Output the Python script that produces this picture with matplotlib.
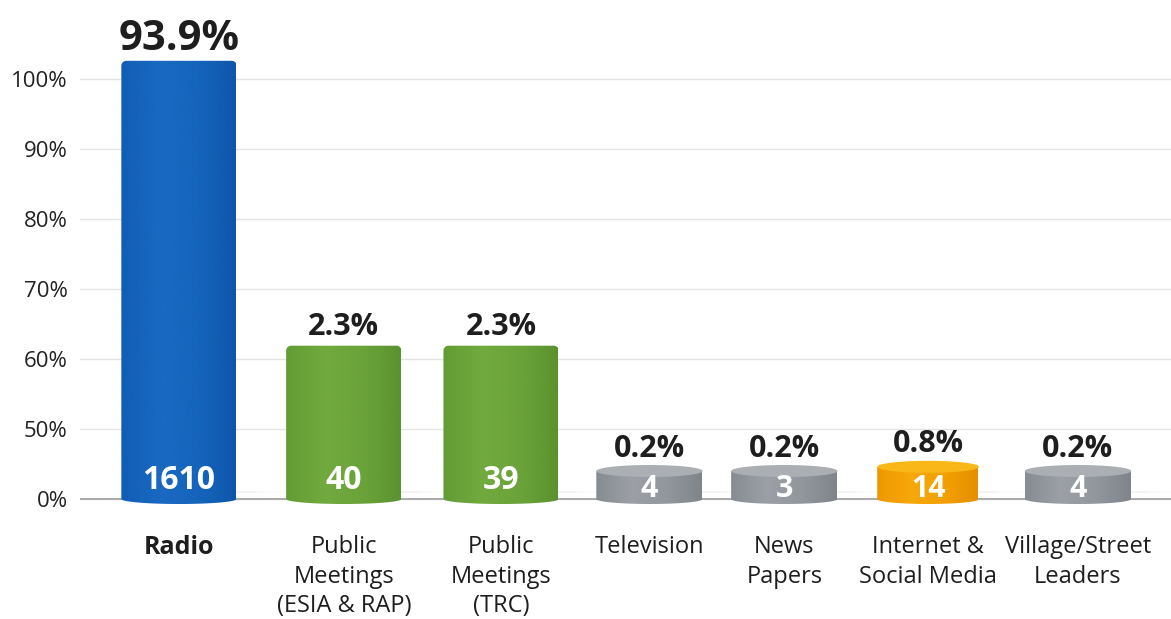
import numpy as np
import matplotlib; matplotlib.use('Agg')
import matplotlib.pyplot as plt
from matplotlib.patches import Polygon, Ellipse
from matplotlib.colors import LinearSegmentedColormap

plt.rcParams['font.family'] = ['Open Sans', 'DejaVu Sans']

cats = ['Radio', 'Public\nMeetings\n(ESIA & RAP)', 'Public\nMeetings\n(TRC)', 'Television',
        'News\nPapers', 'Internet &\nSocial Media', 'Village/Street\nLeaders']
counts = [1610, 40, 39, 4, 3, 14, 4]
pcts = [93.9, 2.3, 2.3, 0.2, 0.2, 0.8, 0.2]
# bar heights as drawn, read against the (broken) % axis
drawn = [102.6, 61.9, 61.9, 20, 20, 23, 20]
kind = ['blue', 'green', 'green', 'grey', 'grey', 'orange', 'grey']
yticks = [0, 50, 60, 70, 80, 90, 100]

# layout
xpos = [0, 1.10, 2.15, 3.14, 4.04, 5.0, 6.0]
PXX, PXU = 149.8, 70.0     # px per x unit / per scale unit
PAL = {'blue':  (['#115db4', '#1969c2', '#1564bc', '#0d56aa'], None),
       'green': (['#629c34', '#71aa3e', '#6aa339', '#5a922f'], None),
       'grey':  (['#878c93', '#9ca0a6', '#92979d', '#7f848b'], '#abafb4'),
       'orange': (['#ee9800', '#f7a80a', '#f2a000', '#e48e00'], '#f9b818')}

def fwd(y):
    y = np.asarray(y, float)
    return np.where(y <= 50, y/50, 1+(y-50)/10)

def inv(u):
    u = np.asarray(u, float)
    return np.where(u <= 1, u*50, 50+(u-1)*10)

fig = plt.figure(figsize=(11.71, 6.19), dpi=100)
ax = fig.add_axes([80/1171, (619-509)/619, 1-80/1171, 489/619])
ax.set_yscale('function', functions=(fwd, inv))

def body(xc, w, h, r=0, d=5):
    x0, x1 = xc-w/2, xc+w/2
    ut = float(fwd(h)); rx, ru = r/PXX, r/PXU; du = d/PXU
    a = np.linspace(0, np.pi/2, 10)
    tl = np.c_[x0+rx-rx*np.cos(a), ut-ru+ru*np.sin(a)]
    tr = np.c_[x1-rx+rx*np.sin(a), ut-ru+ru*np.cos(a)]
    b = np.linspace(0, np.pi, 40)
    bot = np.c_[xc+w/2*np.cos(b), -du*np.sin(b)]
    v = np.vstack([[[x0, 0]], tl, tr, bot])
    v[:, 1] = inv(v[:, 1])
    return Polygon(v, closed=True, fc='none', ec='none', zorder=3)

def lid(xc, w, h, e=6):
    t = np.linspace(0, 2*np.pi, 60)
    v = np.c_[xc+w/2*np.cos(t), float(fwd(h))+e/PXU*np.sin(t)]
    v[:, 1] = inv(v[:, 1])
    return v

def gfill(patch, x0, x1, cols, z):
    ax.add_patch(patch)
    cm = LinearSegmentedColormap.from_list('g', cols)
    im = ax.imshow(np.linspace(0, 1, 256).reshape(1, -1), cmap=cm, aspect='auto',
                   extent=(x0, x1, -8, 110), origin='lower', zorder=z, interpolation='bicubic')
    im.set_clip_path(patch)

for x, h, k, c, p in zip(xpos, drawn, kind, counts, pcts):
    tall = h > 50
    w = 0.77 if tall else 0.71
    if k == 'orange': w = 0.68
    # soft shadow
    for j in range(7):
        ax.add_patch(Ellipse((x+w*0.32, inv(0.10)), w*(0.8+0.1*j), 0.42-0.04*j,
                             fc='#000000', alpha=0.035, ec='none', zorder=1.5))
    cols, top = PAL[k]
    gfill(body(x, w, h, r=5 if tall else 0), x-w/2, x+w/2, cols, 3)
    ytop = h
    if top:
        ax.add_patch(Polygon(lid(x, w, h), closed=True, fc=top, ec='none', zorder=4))
        ytop = float(inv(fwd(h)+6/PXU))
    ax.annotate(f'{p}%', (x, ytop), xytext=(0, 8 if tall else 6), textcoords='offset points',
                ha='center', va='baseline', fontsize=30 if p > 50 else 22,
                fontweight='bold', color='#1e1e1e', zorder=5)
    cy = inv(0.26) if tall else inv(0.14)
    ax.text(x, cy, str(c), ha='center', va='center', fontsize=23 if tall else 22,
            fontweight='bold', color='white', zorder=5)

ax.set_xlim(-(179-80)/PXX, 6+(1171-1078)/PXX)
ax.set_ylim(float(inv(-10/PXU)), float(inv(479/PXU)))
ax.set_yticks(yticks, [f'{t}%' for t in yticks])
ax.set_xticks(xpos, cats)
ax.tick_params(axis='y', length=0, pad=9, labelsize=16, labelcolor='#222222')
ax.tick_params(axis='x', length=0, pad=19, labelsize=17, labelcolor='#1e1e1e')
for lb in ax.get_xticklabels():
    lb.set_linespacing(1.3)
ax.get_xticklabels()[0].set_fontweight('bold')
ax.get_xticklabels()[0].set_fontsize(18)
for s in ax.spines.values():
    s.set_visible(False)
ax.set_axisbelow(True)
ax.grid(axis='y', color='#e4e4e4', lw=1)
ax.grid(axis='x', visible=False)
ax.axhline(0, color='#a4a4a4', lw=1.3, zorder=1)

fig.savefig('out.png', dpi=100, facecolor='white')
